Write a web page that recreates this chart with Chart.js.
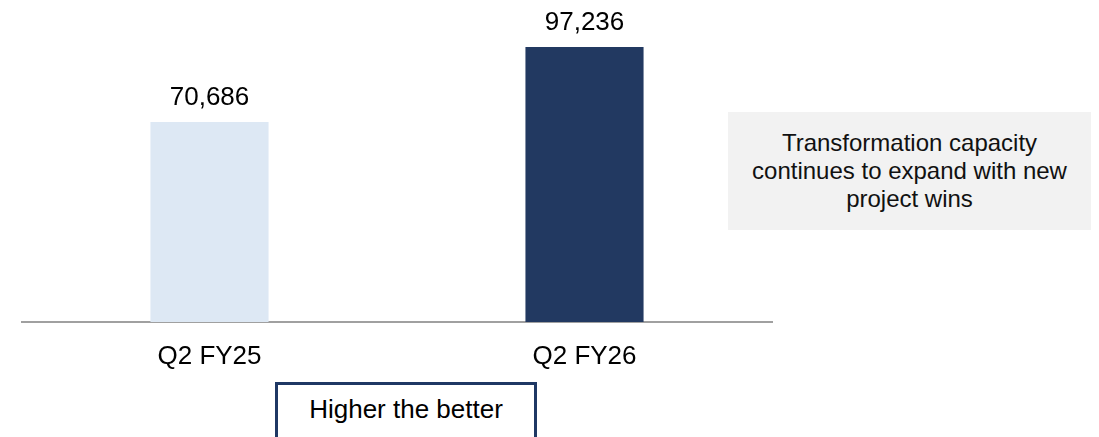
<!DOCTYPE html>
<html lang="en">
<head>
    <meta charset="UTF-8">
    <title>Transformation capacity</title>
    <script src="https://cdn.jsdelivr.net/npm/chart.js"></script>
    <style>
        body {
            margin: 0;
            background: #fff;
            font-family: "Liberation Sans", Arial, sans-serif;
            overflow: hidden;
        }
        #wrap {
            position: relative;
            width: 1099px;
            height: 437px;
        }
        #callout {
            position: absolute;
            left: 728px;
            top: 112px;
            width: 363px;
            height: 118px;
            background: #f2f2f2;
            color: #111;
            font-size: 24px;
            line-height: 28px;
            text-align: center;
            display: flex;
            align-items: center;
            justify-content: center;
        }
        #better {
            position: absolute;
            left: 275px;
            top: 382px;
            width: 262px;
            height: 70px;
            border: 3px solid #1f3864;
            color: #000;
            font-size: 26px;
            line-height: 30px;
            padding-top: 9px;
            box-sizing: border-box;
            text-align: center;
            background: #fff;
        }
    </style>
</head>
<body>
<div id="wrap">
    <canvas id="chart" width="1099" height="437"></canvas>
    <div id="callout">Transformation capacity<br>continues to expand with new<br>project wins</div>
    <div id="better">Higher the better</div>
</div>

<script>
const periods = ['Q2 FY25', 'Q2 FY26'];
const capacity = [70686, 97236];
const barColors = ['#dde8f4', '#223961'];

// value labels above each bar
const valueLabels = {
    id: 'valueLabels',
    afterDatasetsDraw(chart) {
        const ctx = chart.ctx;
        const meta = chart.getDatasetMeta(0);
        ctx.save();
        ctx.font = '26px "Liberation Sans", Arial, sans-serif';
        ctx.fillStyle = '#000';
        ctx.textAlign = 'center';
        ctx.textBaseline = 'alphabetic';
        meta.data.forEach((bar, i) => {
            ctx.fillText(capacity[i].toLocaleString('en-US'), bar.x, bar.y - 17);
        });
        ctx.restore();
    }
};

const ctx = document.getElementById('chart').getContext('2d');
new Chart(ctx, {
    type: 'bar',
    data: {
        labels: periods,
        datasets: [{
            data: capacity,
            backgroundColor: barColors,
            borderWidth: 0,
            categoryPercentage: 1,
            barPercentage: 0.315
        }]
    },
    options: {
        responsive: false,
        animation: false,
        layout: {
            padding: { left: 22, right: 327, top: 10, bottom: 0 }
        },
        plugins: {
            legend: { display: false },
            tooltip: { enabled: false }
        },
        scales: {
            x: {
                grid: { display: false, drawTicks: false },
                border: { display: true, color: '#a0a0a0', width: 2 },
                ticks: {
                    color: '#000',
                    padding: 19,
                    font: { family: '"Liberation Sans", Arial, sans-serif', size: 26 }
                },
                afterFit(scale) {
                    scale.height = 115;
                }
            },
            y: {
                display: false,
                min: 0,
                max: 110300
            }
        }
    },
    plugins: [valueLabels]
});
</script>
</body>
</html>
